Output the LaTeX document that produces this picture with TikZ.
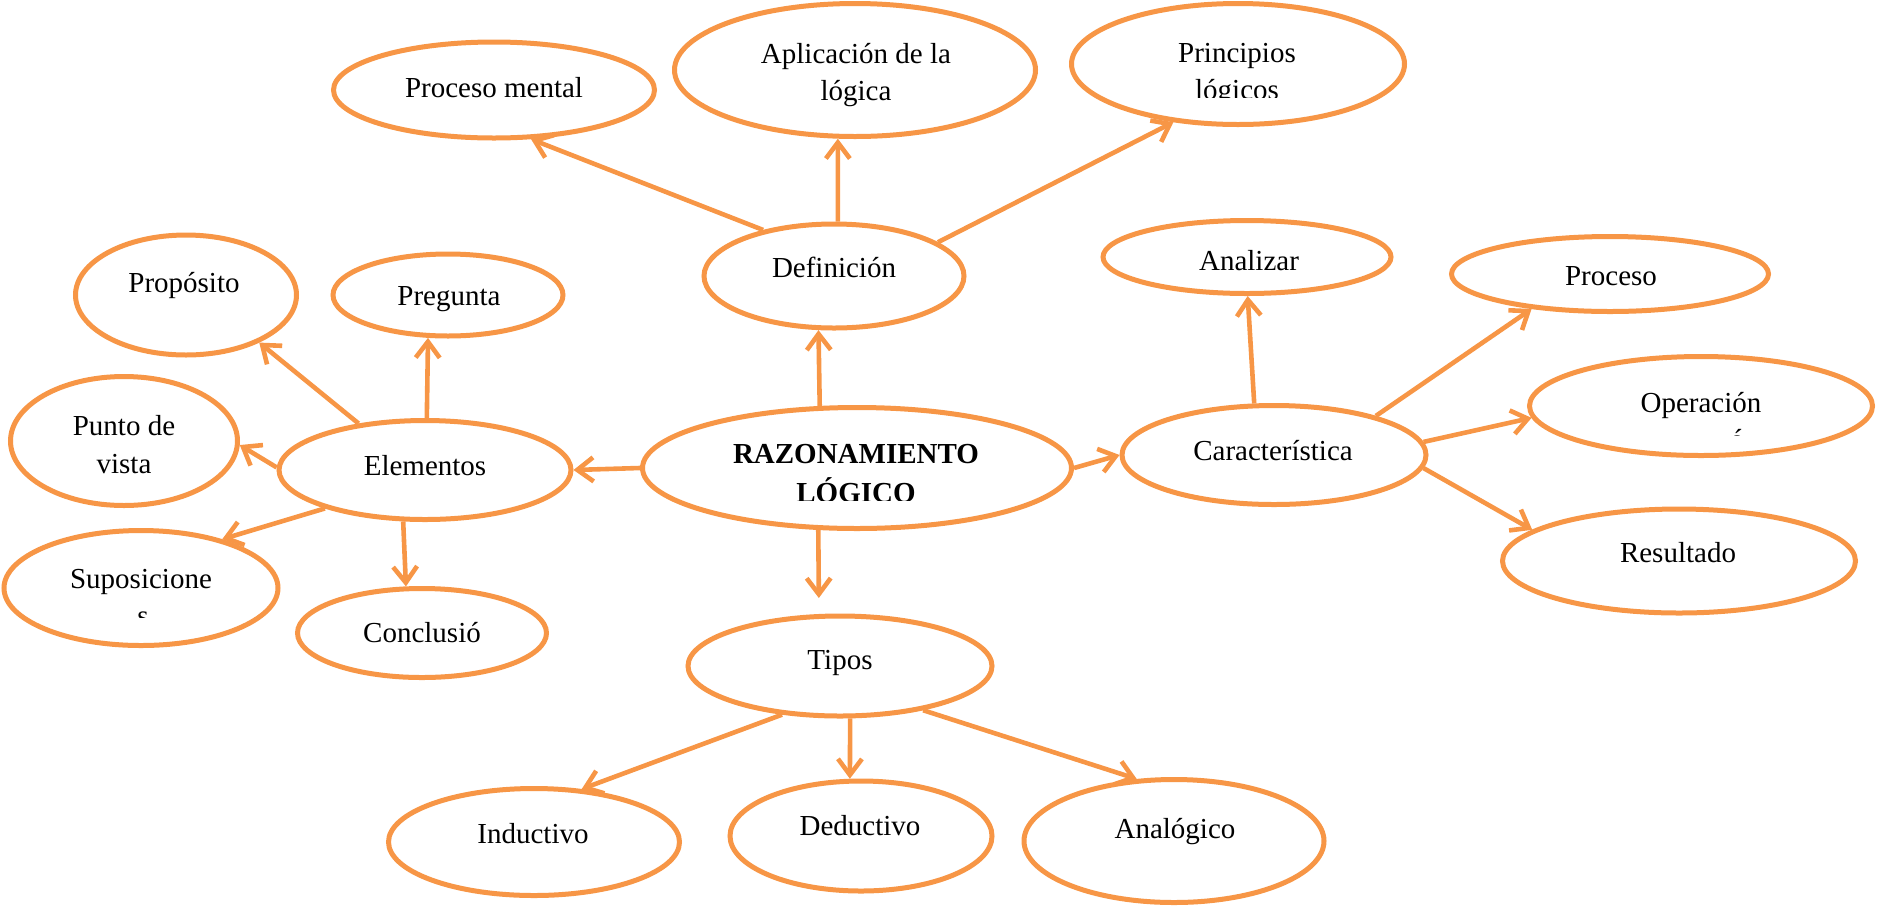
\documentclass[tikz,border=0pt]{standalone}
\usepackage{fontspec}
\setmainfont{Liberation Serif}
\usetikzlibrary{arrows.meta,shapes.geometric}
\definecolor{org}{RGB}{247,150,70}
\tikzset{
  bub/.style={ellipse, draw=org, line width=5pt, inner sep=0pt, fill=white},
  lbl/.style={anchor=base, inner sep=0pt, font=\fontsize{29}{37.5}\selectfont, text=black},
  con/.style={draw=org, line width=4.6pt, -{Straight Barb[length=16pt,width=24pt]}},
}
\begin{document}
\begin{tikzpicture}[x=1pt,y=-1pt]
\useasboundingbox (0,0) rectangle (1877,906);
% ellipses
\node[bub, minimum width=321pt, minimum height=96pt]  (pm)     at (494,90)  {};
\node[bub, minimum width=361pt, minimum height=133pt] (apl)    at (855,70)  {};
\node[bub, minimum width=333pt, minimum height=121pt] (prin)   at (1238,64) {};
\node[bub, minimum width=260pt, minimum height=104pt] (def)    at (834,276) {};
\node[bub, minimum width=221pt, minimum height=120pt] (prop)   at (186,295) {};
\node[bub, minimum width=230pt, minimum height=82pt]  (preg)   at (448,295) {};
\node[bub, minimum width=227pt, minimum height=129pt] (pv)     at (124,441) {};
\node[bub, minimum width=292pt, minimum height=99pt]  (elem)   at (425,470) {};
\node[bub, minimum width=429pt, minimum height=121pt] (raz)    at (857,468) {};
\node[bub, minimum width=304pt, minimum height=99pt]  (car)    at (1274,455) {};
\node[bub, minimum width=288pt, minimum height=73pt]  (ana)    at (1247,257) {};
\node[bub, minimum width=317pt, minimum height=75pt]  (proc)   at (1610,274) {};
\node[bub, minimum width=343pt, minimum height=99pt]  (oper)   at (1701,406) {};
\node[bub, minimum width=353pt, minimum height=104pt] (res)    at (1679,561) {};
\node[bub, minimum width=274pt, minimum height=115pt] (sup)    at (141,588) {};
\node[bub, minimum width=249pt, minimum height=89pt]  (conc)   at (422,633) {};
\node[bub, minimum width=304pt, minimum height=100pt] (tip)    at (840,666) {};
\node[bub, minimum width=291pt, minimum height=107pt] (ind)    at (534,842) {};
\node[bub, minimum width=262pt, minimum height=110pt] (ded)    at (861,836) {};
\node[bub, minimum width=300pt, minimum height=123pt] (analog) at (1174,841) {};
% texts
\node[lbl] (tpm)    at (494,97)  {Proceso mental};
\node[lbl] (tapl1)  at (856,63)  {Aplicación de la};
\node[lbl] (tapl2)  at (856,100) {lógica};
\node[lbl] (tprin1) at (1237,62) {Principios};
\begin{scope}
\clip (1100,70) rectangle (1380,97);
\node[lbl] (tprin2) at (1237,99) {lógicos};
\end{scope}
\node[lbl] (tdef)   at (834,277) {Definición};
\node[lbl] (tprop)  at (184,292) {Propósito};
\node[lbl] (tpreg)  at (449,305) {Pregunta};
\node[lbl] (tpv1)   at (124,435) {Punto de};
\node[lbl] (tpv2)   at (124,473) {vista};
\node[lbl] (telem)  at (425,475) {Elementos};
\node[lbl, font=\fontsize{29}{37.5}\selectfont\bfseries] (traz1) at (856,463) {RAZONAMIENTO};
\begin{scope}
\clip (700,470) rectangle (1010,500);
\node[lbl, font=\fontsize{29}{37.5}\selectfont\bfseries] (traz2) at (856,502) {LÓGICO};
\end{scope}
\node[lbl] (tcar)   at (1273,460) {Característica};
\node[lbl] (tana)   at (1249,270) {Analizar};
\node[lbl] (tproc)  at (1611,285) {Proceso};
\node[lbl] (toper1) at (1701,412) {Operación};
\begin{scope}
\clip (1700,420) rectangle (1780,435);
\node[lbl] (toper2) at (1737,449.5) {ó};
\end{scope}
\node[lbl] (tres)   at (1678,562) {Resultado};
\node[lbl] (tsup1)  at (141,588) {Suposicione};
\begin{scope}
\clip (100,600) rectangle (190,617);
\node[lbl] (tsup2)  at (143,625.5) {s};
\end{scope}
\node[lbl] (tconc)  at (422,642) {Conclusió};
\node[lbl] (ttip)   at (840,669) {Tipos};
\node[lbl] (tind)   at (533,843) {Inductivo};
\node[lbl] (tded)   at (860,835) {Deductivo};
\node[lbl] (tanalog) at (1175,838) {Analógico};
% connectors
\draw[con] (raz.121) -- (def.254);
\draw[con] (def.147) -- (pm.307);
\draw[con] (def.86) -- (apl.256);
\draw[con] (def.18) -- (prin.222);
\draw[con] (raz.west) -- (elem.east);
\draw[con] (raz.east) -- (car.west);
\draw[con, shorten >=16pt] (raz.238) -- (tip.112);
\draw[con] (elem.145) -- (prop.327);
\draw[con] (elem.88) -- (preg.245);
\draw[con] (elem.179) -- (pv.358);
\draw[con] (elem.201) -- (sup.31);
\draw[con] (elem.247) -- (conc.109);
\draw[con] (car.111) -- (ana.271);
\draw[con] (car.21) -- (proc.204);
\draw[con] (car.5) -- (oper.184);
\draw[con] (car.355) -- (res.168);
\draw[con] (tip.220) -- (ind.48);
\draw[con] (tip.281) -- (ded.101);
\draw[con] (tip.332) -- (analog.121);
\end{tikzpicture}
\end{document}
